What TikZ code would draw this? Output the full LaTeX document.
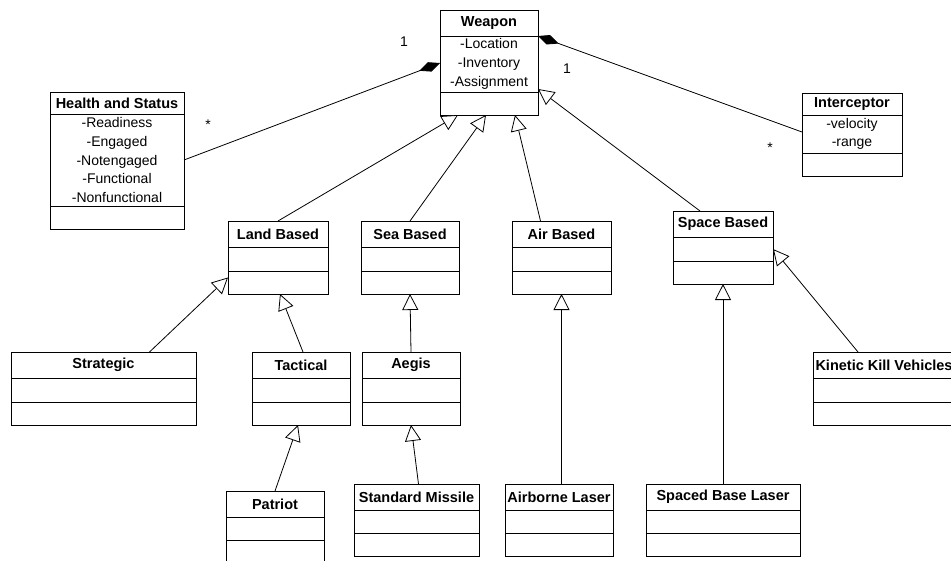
\documentclass[tikz,border=0pt]{standalone}
\usepackage{fontspec}
\setmainfont{Liberation Sans}
\usetikzlibrary{arrows.meta,positioning}

\tikzset{
  classname/.style={draw,line width=0.9pt,outer sep=0pt,inner sep=0pt,anchor=north west,
    font=\fontsize{14.5}{18.7}\selectfont\bfseries},
  classattr/.style={draw,line width=0.9pt,outer sep=0pt,inner sep=0pt,align=center,
    font=\fontsize{14}{18.7}\selectfont},
  classops/.style={draw,line width=0.9pt,outer sep=0pt,inner sep=0pt,minimum height=23pt},
  inherit/.style={-{Triangle[open,length=16pt,width=16pt,fill=white]},line width=0.8pt},
  compose/.style={-{Diamond[length=22pt,width=10pt]},line width=0.8pt},
  mult/.style={font=\fontsize{14}{14}\selectfont,inner sep=0pt}
}

\begin{document}
\begin{tikzpicture}[x=1pt,y=-1pt]
\useasboundingbox (0,0) rectangle (951,560);

% classes: name/left/top/width/title height/attribute height/title/attributes
\foreach \cls/\x/\y/\w/\th/\ah/\ttl/\attr in {
  weapon/440/10/98/26/56/Weapon/{-Location\\-Inventory\\-Assignment},
  health/50/92/134/22/92/Health and Status/{-Readiness\\-Engaged\\-Notengaged\\-Functional\\-Nonfunctional},
  interceptor/802/93/100/22/38/Interceptor/{-velocity\\-range},
  land/228/221/100/26/24/Land Based/{},
  sea/361/221/98/26/24/Sea Based/{},
  air/512/221/99/26/24/Air Based/{},
  space/673/211/100/26/24/Space Based/{},
  strategic/11/352/185/26/24/Strategic/{},
  tactical/252/352/98/26/24/Tactical/{},
  aegis/362/352/98/26/24/Aegis/{},
  kinetic/813/352/142/26/24/Kinetic Kill Vehicles/{},
  patriot/226/491/98/26/23/Patriot/{},
  missile/354/484/125/26/23/Standard Missile/{},
  airborne/505/484/108/26/23/Airborne Laser/{},
  spaced/646/484/154/26/23/Spaced Base Laser/{}
}{
  \node[classname,minimum width=\w pt,minimum height=\th pt] (\cls) at (\x,\y) {\ttl};
  \node[classattr,minimum width=\w pt,minimum height=\ah pt,below=0pt of \cls] (\cls-a) {\attr};
  \node[classops,minimum width=\w pt,below=0pt of \cls-a] (\cls-o) {};
}

% composition
\draw[compose] (health-a.east) -- ([yshift=1pt]weapon-a.west);
\draw[compose] ([yshift=2pt]interceptor-a.west) -- (weapon.south east);
\node[mult] (m1) at (404,42) {1};
\node[mult] (m2) at (567,69) {1};
\node[mult] (m3) at (208,125) {*};
\node[mult] (m4) at (770,148) {*};

% generalization
\draw[inherit] (land.north) -- ([xshift=-31pt]weapon-o.south);
\draw[inherit] (sea.north) -- ([xshift=-3pt]weapon-o.south);
\draw[inherit] ([xshift=-21pt]air.north) -- ([xshift=26pt]weapon-o.south);
\draw[inherit] ([xshift=-23pt]space.north) -- ([yshift=3pt]weapon-a.south east);
\draw[inherit] ([xshift=46pt]strategic.north) -- ([yshift=5pt]land-o.west);
\draw[inherit] ([xshift=2pt]tactical.north) -- ([xshift=2pt]land-o.south);
\draw[inherit] (patriot.north) -- ([xshift=-3pt]tactical-o.south);
\draw[inherit] (aegis.north) -- (sea-o.south);
\draw[inherit] ([xshift=2pt]missile.north) -- (aegis-o.south);
\draw[inherit] (air-o.south |- airborne.north) -- (air-o.south);
\draw[inherit] (spaced.north) -- (space-o.south);
\draw[inherit] ([xshift=-26pt]kinetic.north) -- (space-a.east);
\end{tikzpicture}
\end{document}
